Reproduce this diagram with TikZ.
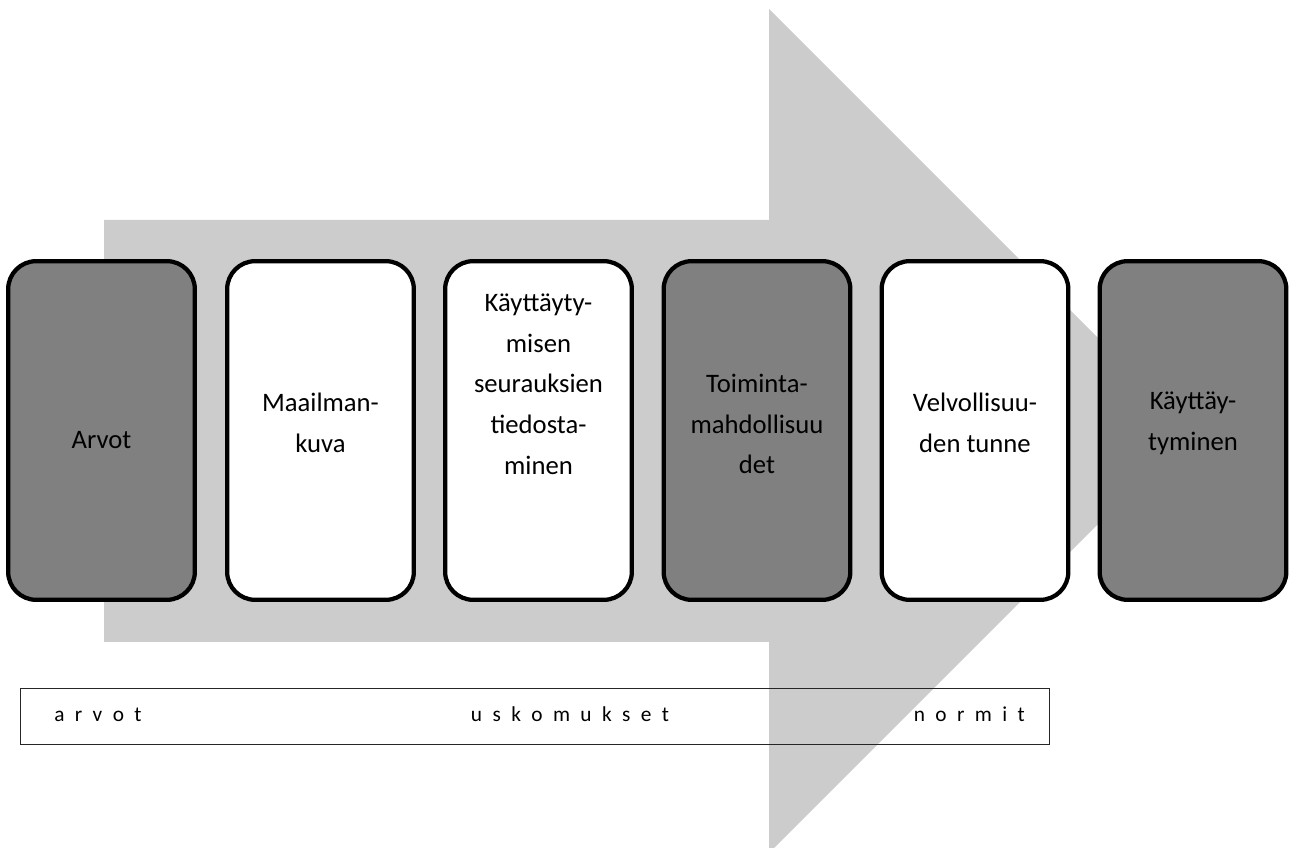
\documentclass[tikz,border=0pt]{standalone}
\usepackage{fontspec}
\setmainfont{Carlito}

\tikzset{
  phasebox/.style={draw=black, line width=3.2pt, rounded corners=21pt,
    minimum width=140pt, minimum height=254pt, inner sep=0pt},
  darkbox/.style={phasebox, fill=black!50},
  lightbox/.style={phasebox, fill=white},
  boxtext/.style={align=center, inner sep=0pt, font=\fontsize{20}{30.5}\selectfont},
  scaletext/.style={inner sep=0pt, font={\fontsize{16}{18}\selectfont\spaceskip=7.8pt\relax}},
}

\begin{document}
\begin{tikzpicture}[x=0.75pt, y=-0.75pt]
    \clip (0,0) rectangle (1290,848);
    \useasboundingbox (0,0) rectangle (1290,848);

    % big arrow behind
    \fill[black!20] (104,220) -- (769,220) -- (769,9) -- (1191,431)
        -- (769,853) -- (769,642) -- (104,642) -- cycle;

    \coordinate (b1) at (101.5,430.5);
    \coordinate (b2) at (320.5,430.5);
    \coordinate (b3) at (538.5,430.5);
    \coordinate (b4) at (757,430.5);
    \coordinate (b5) at (975,430.5);
    \coordinate (b6) at (1193,430.5);

    \node[darkbox] (arvot) at (b1) {};
    \node[lightbox] (maailmankuva) at (b2) {};
    \node[lightbox] (seuraukset) at (b3) {};
    \node[darkbox] (mahdollisuudet) at (b4) {};
    \node[lightbox] (velvollisuus) at (b5) {};
    \node[darkbox] (kayttaytyminen) at (b6) {};

    \node[boxtext] at (101.5,440) {Arvot};
    \node[boxtext] at (320.5,423) {Maailman-\\kuva};
    \node[boxtext] at (538.5,384) {Käyttäyty-\\misen\\seurauksien\\tiedosta-\\minen};
    \node[boxtext] at (757,424) {Toiminta-\\mahdollisuu\\det};
    \node[boxtext] at (975,423) {Velvollisuu-\\den tunne};
    \node[boxtext] at (1193,423) {Käyttäy-\\tyminen};

    % scale below
    \node[draw=black!85, line width=1.1pt, minimum width=771.5pt, minimum height=42pt,
        inner sep=0pt] (scale) at (535,716.5) {};
    \node[scaletext, anchor=base west] (arvotlab) at (54,721) {a r v o t};
    \node[scaletext, anchor=base] (uskomuksetlab) at (570,721) {u s k o m u k s e t};
    \node[scaletext, anchor=base east] (normitlab) at (1025,721) {n o r m i t};
\end{tikzpicture}
\end{document}
